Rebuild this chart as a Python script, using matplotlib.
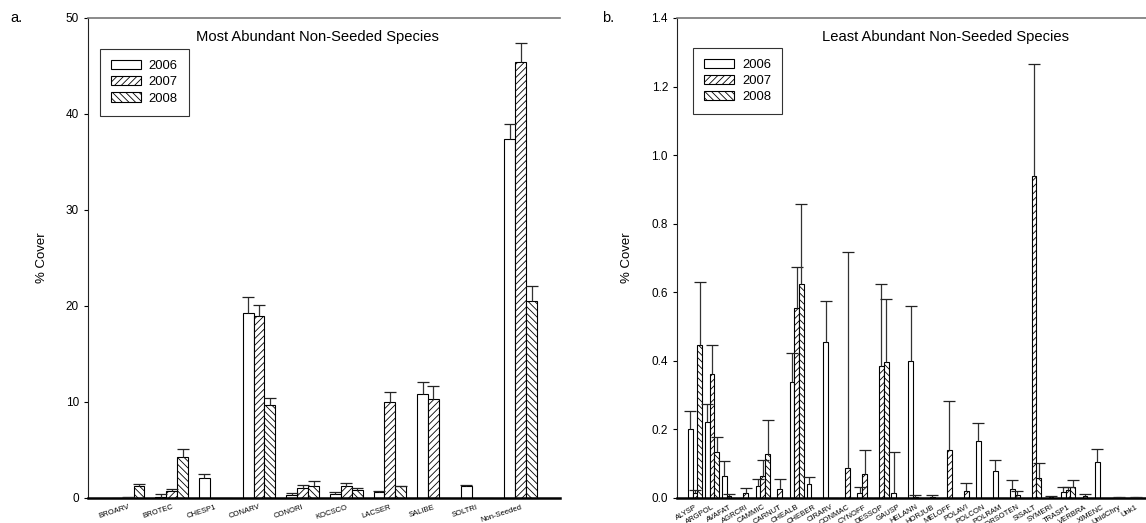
import numpy as np
import matplotlib
matplotlib.use('Agg')
import matplotlib.pyplot as plt
from matplotlib.ticker import FormatStrFormatter

plt.rcParams['font.family'] = ['Liberation Sans', 'DejaVu Sans']
plt.rcParams['hatch.linewidth'] = 0.6

years = ['2006', '2007', '2008']
hatches = ['', '/////', '\\\\\\\\\\']

# panel a: most abundant species (mean % cover and SE)
species_a = ['BROARV', 'BROTEC', 'CHESP1', 'CONARV', 'CONORI', 'KOCSCO',
             'LACSER', 'SALIBE', 'SOLTRI', 'Non-Seeded']
a_2006 = [0.0, 0.15, 2.1, 19.3, 0.3, 0.4, 0.6, 10.8, 1.2, 37.4]
a_2006_se = [0.0, 0.25, 0.35, 1.6, 0.2, 0.25, 0.1, 1.3, 0.2, 1.6]
a_2007 = [0.08, 0.75, 0.0, 19.0, 1.0, 1.2, 10.0, 10.3, 0.0, 45.4]
a_2007_se = [0.02, 0.2, 0.0, 1.1, 0.4, 0.4, 1.0, 1.4, 0.0, 2.0]
a_2008 = [1.2, 4.25, 0.0, 9.7, 1.3, 0.85, 1.2, 0.05, 0.0, 20.5]
a_2008_se = [0.25, 0.85, 0.0, 0.7, 0.45, 0.15, 0.1, 0.0, 0.0, 1.6]

# panel b: least abundant species
species_b = ['ALYSP', 'ARGPOL', 'AVAFAT', 'AGRCRI', 'CAMMIC', 'CARNUT', 'CHEALB',
             'CHEBER', 'CIRARV', 'CONMAC', 'CYNOFF', 'DESSOP', 'GAUSP', 'HELANN',
             'HORJUB', 'MELOFF', 'POLAVI', 'POLCON', 'POLRAM', 'PORSOTEN', 'SISALT',
             'SYMERI', 'TRASP1', 'VERBRA', 'XIMENC', 'UnidChry', 'Unk1']
b_2006 = [0.20, 0.223, 0.065, 0.0, 0.035, 0.0, 0.339, 0.042, 0.456, 0.0,
          0.016, 0.0, 0.016, 0.40, 0.0, 0.0, 0.0, 0.165, 0.078, 0.026,
          0.0, 0.0, 0.017, 0.0, 0.106, 0.0, 0.0]
b_2006_se = [0.055, 0.051, 0.043, 0.0, 0.02, 0.0, 0.085, 0.018, 0.119, 0.0,
             0.015, 0.0, 0.119, 0.16, 0.0, 0.0, 0.0, 0.053, 0.033, 0.026,
             0.0, 0.0, 0.014, 0.0, 0.036, 0.0, 0.0]
b_2007 = [0.015, 0.363, 0.007, 0.014, 0.064, 0.027, 0.553, 0.0, 0.0, 0.088,
          0.069, 0.385, 0.0, 0.004, 0.004, 0.14, 0.02, 0.0, 0.0, 0.009,
          0.94, 0.003, 0.024, 0.005, 0.0, 0.002, 0.002]
b_2007_se = [0.007, 0.084, 0.005, 0.014, 0.048, 0.028, 0.122, 0.0, 0.0, 0.63,
             0.071, 0.24, 0.0, 0.005, 0.005, 0.142, 0.023, 0.0, 0.0, 0.011,
             0.325, 0.004, 0.007, 0.006, 0.0, 0.002, 0.002]
b_2008 = [0.445, 0.135, 0.0, 0.0, 0.128, 0.0, 0.624, 0.0, 0.0, 0.0,
          0.0, 0.397, 0.0, 0.0, 0.0, 0.0, 0.0, 0.0, 0.0, 0.0,
          0.057, 0.0, 0.032, 0.0, 0.0, 0.0, 0.0]
b_2008_se = [0.185, 0.042, 0.0, 0.0, 0.1, 0.0, 0.234, 0.0, 0.0, 0.0,
             0.0, 0.183, 0.0, 0.0, 0.0, 0.0, 0.0, 0.0, 0.0, 0.0,
             0.044, 0.0, 0.021, 0.0, 0.0, 0.0, 0.0]


def grouped_bars(ax, names, series, errs, width, rot, label_size):
    x = np.arange(len(names))
    for k, (vals, se) in enumerate(zip(series, errs)):
        vals = np.array(vals)
        se = np.array(se)
        xx = x + (k - 1) * width
        ax.bar(xx, vals, width, facecolor='white', edgecolor='black',
               linewidth=0.8, hatch=hatches[k], label=years[k], zorder=2)
        m = se > 0
        # one-sided (upper) error bars with a cap only at the top
        ax.errorbar(xx[m], vals[m], yerr=[np.zeros(m.sum()), se[m]], fmt='none',
                    ecolor='#333333', elinewidth=0.9, capsize=0, zorder=3)
        ax.plot(xx[m], vals[m] + se[m], ls='none', marker='_', markersize=8,
                markeredgewidth=0.9, color='#222222', zorder=3)
    ax.set_xticks(x)
    ax.set_xticklabels(names, rotation=rot, ha='right', rotation_mode='anchor',
                       fontsize=label_size)
    ax.tick_params(axis='x', length=0, pad=4)
    ax.tick_params(axis='y', direction='out', length=3, width=0.8, labelsize=8.5)
    ax.spines['right'].set_visible(False)
    ax.spines['top'].set_color('#777777')
    ax.spines['top'].set_linewidth(1.2)
    ax.spines['left'].set_color('#222222')
    ax.spines['bottom'].set_linewidth(1.8)
    ax.set_ylabel('% Cover', fontsize=9.5, labelpad=13)
    leg = ax.legend(loc='upper left', fontsize=9.4, frameon=True, fancybox=False,
                    edgecolor='black', handlelength=2.3, handleheight=0.7,
                    labelspacing=0.3, handletextpad=0.6, borderpad=0.85,
                    borderaxespad=0)
    leg.get_frame().set_linewidth(0.8)
    return leg


fig = plt.figure(figsize=(11.46, 5.23), dpi=100)

ax1 = fig.add_axes([88 / 1146, 25 / 523, 472 / 1146, 480 / 523])
leg1 = grouped_bars(ax1, species_a, [a_2006, a_2007, a_2008],
                    [a_2006_se, a_2007_se, a_2008_se], 0.25, 18, 5.5)
leg1.set_bbox_to_anchor((0.025, 0.935))
ax1.set_ylim(0, 50)
ax1.set_yticks([0, 10, 20, 30, 40, 50])
ax1.set_xlim(-0.92, 9.9)
ax1.text(0.487, 0.96, 'Most Abundant Non-Seeded Species', transform=ax1.transAxes,
         ha='center', va='center', fontsize=10.6)

ax2 = fig.add_axes([677 / 1146, 25 / 523, 469 / 1146, 480 / 523])
leg2 = grouped_bars(ax2, species_b, [b_2006, b_2007, b_2008],
                    [b_2006_se, b_2007_se, b_2008_se], 0.28, 30, 5.5)
leg2.set_bbox_to_anchor((0.034, 0.9375))
ax2.set_ylim(0, 1.4)
ax2.set_yticks(np.arange(0, 1.41, 0.2))
ax2.yaxis.set_major_formatter(FormatStrFormatter('%.1f'))
ax2.set_xlim(-1.06, 26.6)
ax2.text(0.5725, 0.96, 'Least Abundant Non-Seeded Species', transform=ax2.transAxes,
         ha='center', va='center', fontsize=10.6)

fig.text(10 / 1146, 1 - 18 / 523, 'a.', fontsize=10.5, va='center')
fig.text(602 / 1146, 1 - 18 / 523, 'b.', fontsize=10.5, va='center')

fig.savefig('out.png', dpi=100)
